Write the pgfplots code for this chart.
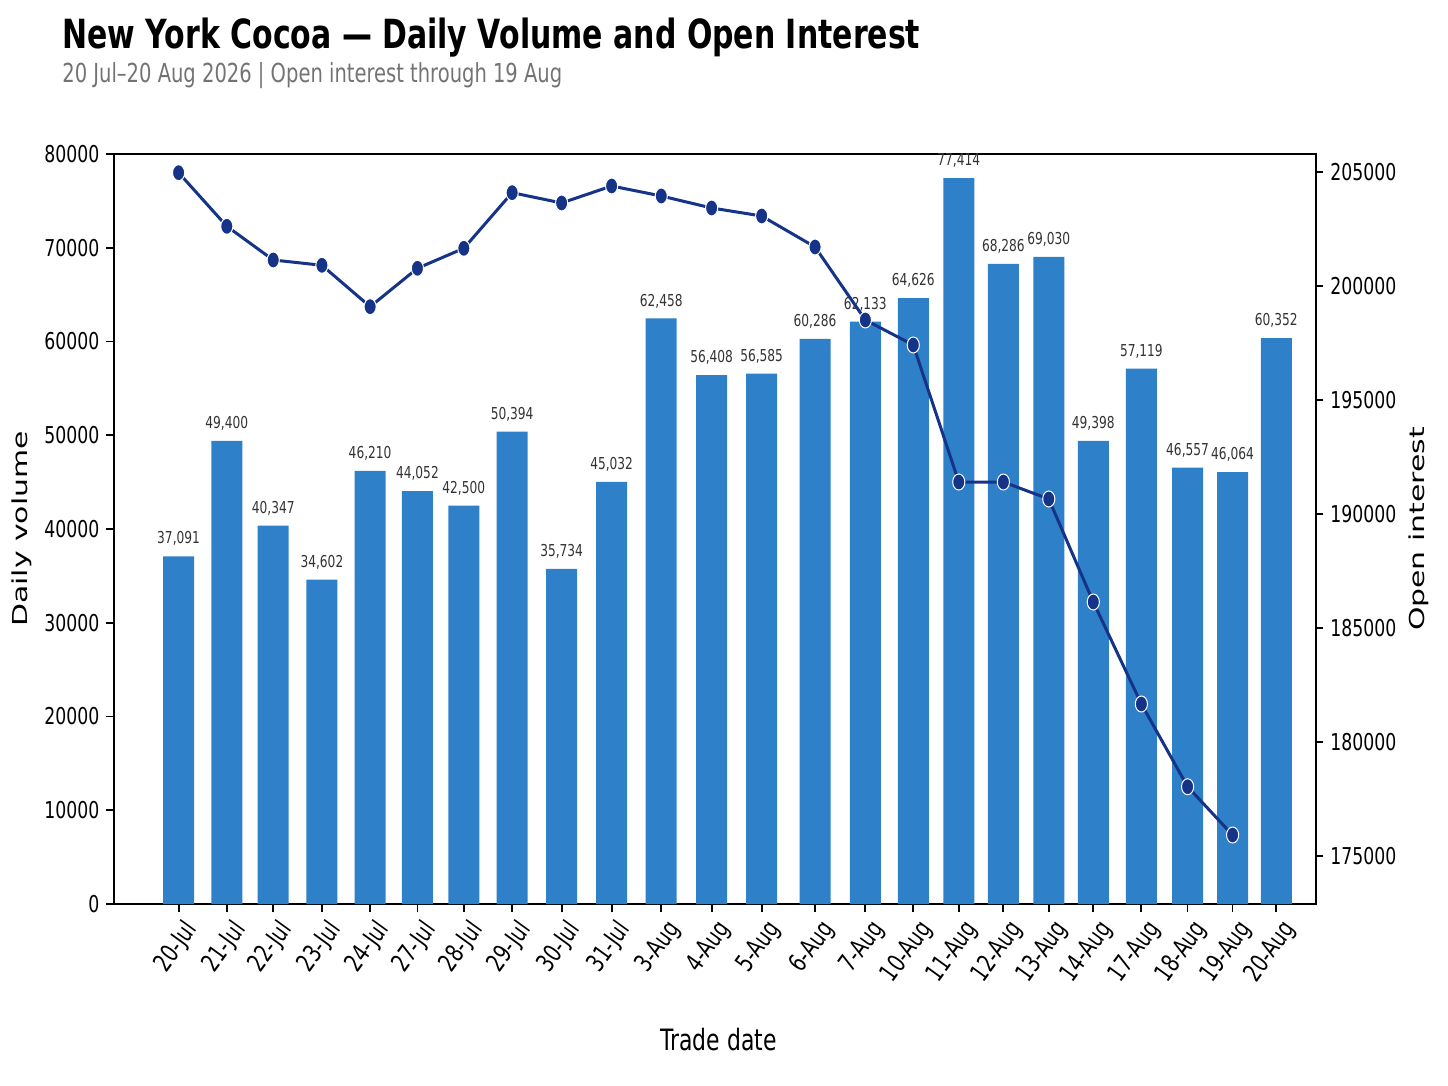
\documentclass[border=0pt]{standalone}
\usepackage{fontspec}
\setmainfont{DejaVu Sans}[FakeStretch=0.745]
\newfontfamily\rotfont{DejaVu Sans}[FakeStretch=1.45]
\usepackage{pgfplots}
\pgfplotsset{compat=1.18}
\definecolor{barblue}{RGB}{46,128,200}
\definecolor{navy}{RGB}{22,52,135}
\pgfkeys{/pgf/number format/assume math mode=true}
% category positions (as placed in the reference)
\def\xpos{178.6,226.8,273.2,321.9,370.1,417.4,463.8,512.1,561.6,611.6,661.2,711.6,761.6,815,865.3,913.2,958.7,1003.3,1048.7,1093.2,1141.3,1187.5,1232.5,1276.2}
\begin{document}
\begin{tikzpicture}
\path (0,0) rectangle (724pt,-543pt);
\node[anchor=base west, inner sep=0pt, font=\fontsize{20.1}{22}\selectfont\bfseries] at (31pt,-24.5pt) {New York Cocoa — Daily Volume and Open Interest};
\node[anchor=base west, inner sep=0pt, font=\fontsize{13.1}{15}\selectfont, text=black!55] at (31pt,-41.5pt) {20 Jul–20 Aug 2026 | Open interest through 19 Aug};
\begin{axis}[
  at={(57pt,-452pt)}, anchor=south west,
  scale only axis, width=600.9pt, height=375pt,
  xmin=114, xmax=1315.7, ymin=0, ymax=80000,
  xtick=\xpos,
  xticklabels={20-Jul,21-Jul,22-Jul,23-Jul,24-Jul,27-Jul,28-Jul,29-Jul,30-Jul,31-Jul,3-Aug,4-Aug,5-Aug,6-Aug,7-Aug,10-Aug,11-Aug,12-Aug,13-Aug,14-Aug,17-Aug,18-Aug,19-Aug,20-Aug},
  ytick={0,10000,...,80000},
  scaled x ticks=false, scaled y ticks=false,
  xtick pos=bottom, ytick pos=left,
  tick align=outside, major tick length=3.8pt,
  axis line style={line width=1pt}, every tick/.style={line width=0.9pt, black},
  yticklabel style={font=\fontsize{11.6}{13}\selectfont, /pgf/number format/fixed, /pgf/number format/precision=0, /pgf/number format/1000 sep={}},
  xticklabel style={font=\fontsize{12.6}{14}\selectfont, rotate=54, anchor=north east, xshift=2pt},
  xlabel={Trade date},
  xlabel style={at={(axis description cs:0.503,-0.181)}, anchor=center, font=\fontsize{14.7}{16}\selectfont},
  ylabel={\rotfont Daily volume},
  ylabel style={at={(axis description cs:-0.0766,0.5)}, anchor=center, rotate=0, font=\fontsize{10.3}{12}\selectfont},
  ybar, bar width=15.5pt,
  nodes near coords,
  nodes near coords style={font=\fontsize{8.2}{9}\selectfont, text=black!80, inner sep=0pt, yshift=5pt, anchor=south,
    /pgf/number format/fixed, /pgf/number format/precision=0, /pgf/number format/1000 sep={,}},
]
\addplot[fill=barblue, draw=none] coordinates {
(178.6,37091) (226.8,49400) (273.2,40347) (321.9,34602) (370.1,46210) (417.4,44052)
(463.8,42500) (512.1,50394) (561.6,35734) (611.6,45032) (661.2,62458) (711.6,56408)
(761.6,56585) (815,60286) (865.3,62133) (913.2,64626) (958.7,77414) (1003.3,68286)
(1048.7,69030) (1093.2,49398) (1141.3,57119) (1187.5,46557) (1232.5,46064) (1276.2,60352)
};
\end{axis}
\begin{axis}[
  at={(57pt,-452pt)}, anchor=south west,
  scale only axis, width=600.9pt, height=375pt,
  xmin=114, xmax=1315.7, ymin=172882, ymax=205776,
  axis x line=none, axis y line*=right,
  ytick={175000,180000,...,205000},
  scaled y ticks=false,
  tick align=outside, major tick length=3.8pt,
  axis line style={line width=1pt}, every tick/.style={line width=0.9pt, black},
  yticklabel style={font=\fontsize{11.6}{13}\selectfont, /pgf/number format/fixed, /pgf/number format/precision=0, /pgf/number format/1000 sep={}},
  ylabel={\rotfont Open interest},
  ylabel style={at={(axis description cs:1.086,0.5)}, anchor=center, rotate=0, font=\fontsize{10.3}{12}\selectfont},
]
\addplot[navy, line width=1.5pt, mark=*, mark size=4pt,
  mark options={fill=navy, draw=white, line width=0.5pt, xscale=0.76}] coordinates {
(178.6,204956) (226.8,202605) (273.2,201127) (321.9,200895) (370.1,199079) (417.4,200763)
(463.8,201640) (512.1,204079) (561.6,203627) (611.6,204373) (661.2,203934) (711.6,203408)
(761.6,203057) (815,201697) (865.3,198496) (913.2,197399) (958.7,191390) (1003.3,191390)
(1048.7,190645) (1093.2,186127) (1141.3,181654) (1187.5,178026) (1232.5,175908)
};
\end{axis}
\end{tikzpicture}
\end{document}
